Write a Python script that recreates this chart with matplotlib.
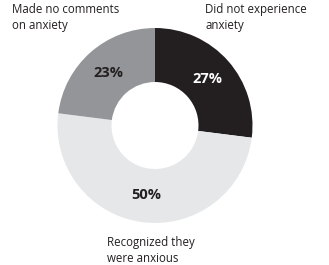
import matplotlib
matplotlib.use("Agg")
import matplotlib.pyplot as plt

# Données du graphique
categories = ["Did not experience\nanxiety", "Recognized they\nwere anxious", "Made no comments\non anxiety"]
valeurs = [27, 50, 23]
couleurs = ["#231f20", "#e6e7e8", "#939598"]
couleurs_texte = ["white", "#231f20", "#231f20"]

plt.rcParams['font.family'] = ['Open Sans', 'DejaVu Sans']

fig = plt.figure(figsize=(3.29, 2.65), dpi=100)
ax = fig.add_axes([0, 0, 1, 1])

# Anneau
wedges, textes, pcts = ax.pie(
    valeurs, colors=couleurs, startangle=90, counterclock=False,
    center=(155, 139.5), radius=97.5, frame=True,
    wedgeprops=dict(width=54, edgecolor="none"),
    autopct="%d%%", pctdistance=0.723,
)
ax.set_xlim(0, 329)
ax.set_ylim(0, 265)
ax.set_aspect("equal")
ax.axis("off")
for t, c in zip(pcts, couleurs_texte):
    t.set_color(c)
    t.set_fontsize(10.5)
    t.set_fontweight("bold")

# Étiquettes des catégories (positions en pixels)
positions = [(205, 262), (107, 29), (12, 262)]
for texte, (x, y) in zip(categories, positions):
    ax.text(x, y, texte, fontsize=8.3, color="#231f20", ha="left", va="top",
            linespacing=1.3)

fig.savefig("out.png", dpi=100)
